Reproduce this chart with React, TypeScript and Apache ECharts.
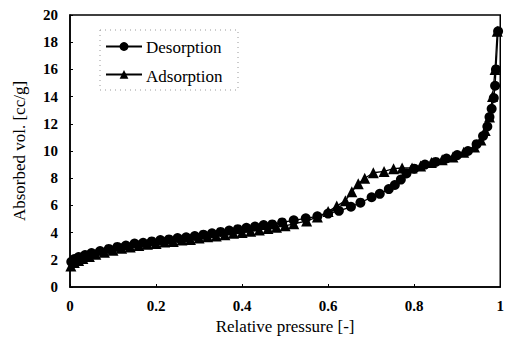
import React, { useEffect, useRef } from "react";
import * as echarts from "echarts";

const xTicks = [0, 0.2, 0.4, 0.6, 0.8, 1];
const yTicks = [0, 2, 4, 6, 8, 10, 12, 14, 16, 18, 20];
const seriesNames = ["Desorption", "Adsorption"];

const desorption: [number, number][] = [
  [0.995, 18.8], [0.99, 16.0], [0.988, 14.8], [0.985, 13.9], [0.98, 13.1],
  [0.975, 12.5], [0.97, 11.8], [0.96, 11.1], [0.945, 10.5], [0.925, 10.0],
  [0.9, 9.7], [0.875, 9.45], [0.85, 9.2], [0.825, 9.0], [0.8, 8.7],
  [0.782, 8.35], [0.769, 7.9], [0.755, 7.5], [0.741, 7.2], [0.72, 6.85],
  [0.701, 6.6], [0.675, 6.2], [0.653, 5.9], [0.625, 5.6], [0.6, 5.4],
  [0.575, 5.2], [0.548, 5.05], [0.52, 4.9], [0.493, 4.75], [0.47, 4.6],
  [0.45, 4.55], [0.43, 4.45], [0.41, 4.35], [0.39, 4.25], [0.37, 4.15],
  [0.35, 4.05], [0.33, 3.95], [0.31, 3.85], [0.29, 3.75], [0.27, 3.65],
  [0.25, 3.6], [0.23, 3.5], [0.21, 3.45], [0.19, 3.35], [0.17, 3.25],
  [0.15, 3.2], [0.13, 3.05], [0.11, 2.95], [0.09, 2.8], [0.07, 2.65],
  [0.05, 2.5], [0.035, 2.35], [0.02, 2.2], [0.01, 2.05], [0.003, 1.85],
];

const adsorption: [number, number][] = [
  [0.002, 1.55], [0.01, 1.8], [0.02, 1.95], [0.03, 2.1], [0.045, 2.25],
  [0.06, 2.4], [0.08, 2.55], [0.1, 2.7], [0.12, 2.85], [0.14, 2.95],
  [0.16, 3.05], [0.18, 3.15], [0.2, 3.2], [0.22, 3.3], [0.24, 3.35],
  [0.26, 3.45], [0.28, 3.5], [0.3, 3.6], [0.32, 3.7], [0.34, 3.75],
  [0.36, 3.85], [0.38, 3.95], [0.4, 4.0], [0.42, 4.1], [0.44, 4.2],
  [0.46, 4.3], [0.48, 4.4], [0.5, 4.5], [0.52, 4.65], [0.55, 4.85],
  [0.575, 5.15], [0.6, 5.55], [0.62, 5.95], [0.64, 6.35], [0.655, 7.0],
  [0.67, 7.6], [0.685, 8.0], [0.705, 8.4], [0.73, 8.5], [0.752, 8.7],
  [0.772, 8.75], [0.795, 8.75], [0.815, 8.9], [0.84, 9.15], [0.865, 9.35],
  [0.89, 9.55], [0.915, 9.9], [0.94, 10.3], [0.955, 10.8], [0.965, 11.5],
  [0.975, 12.5], [0.982, 14.0], [0.988, 16.0], [0.993, 18.8],
];

const FONT = "Liberation Serif";

export default function App() {
  const ref = useRef<HTMLDivElement>(null);
  useEffect(() => {
    if (!ref.current) return;
    const chart = echarts.init(ref.current, undefined, { renderer: "svg" });
    chart.setOption({
      animation: false,
      backgroundColor: "#fff",
      textStyle: { fontFamily: FONT, color: "#000" },
      grid: {
        left: 70,
        top: 15,
        right: 5,
        bottom: 56,
        show: true,
        borderColor: "#000",
        borderWidth: 1.5,
      },
      legend: {
        orient: "vertical",
        left: 105,
        top: 41,
        padding: 0,
        itemGap: 18,
        itemWidth: 36,
        itemHeight: 11,
        formatter: () => "",
        textStyle: { fontSize: 1 },
        data: seriesNames,
      },
      graphic: [
        {
          type: "rect",
          shape: { x: 100, y: 30, width: 138, height: 60 },
          style: { fill: "none", stroke: "#999", lineWidth: 1, lineDash: [1, 4] },
          z: 100,
        },
        {
          type: "text",
          x: 146,
          y: 47,
          style: { text: seriesNames[0], fontFamily: FONT, fontSize: 17, fill: "#000", verticalAlign: "middle" },
        },
        {
          type: "text",
          x: 146,
          y: 76,
          style: { text: seriesNames[1], fontFamily: FONT, fontSize: 17, fill: "#000", verticalAlign: "middle" },
        },
      ],
      xAxis: {
        type: "value",
        min: 0,
        max: 1,
        interval: 0.2,
        name: "Relative pressure [-]",
        nameLocation: "middle",
        nameGap: 31,
        nameTextStyle: { fontFamily: FONT, fontSize: 17, color: "#000" },
        axisLine: { show: true, lineStyle: { color: "#000", width: 1.5 } },
        axisTick: { show: true, inside: true, length: 3, lineStyle: { color: "#000" } },
        axisLabel: {
          fontFamily: FONT,
          fontSize: 15,
          fontWeight: "bold",
          color: "#000",
          margin: 11,
          formatter: (v: number) => (xTicks.includes(Math.round(v * 10) / 10) ? String(Math.round(v * 10) / 10) : ""),
        },
        splitLine: { show: false },
      },
      yAxis: {
        type: "value",
        min: 0,
        max: 20,
        interval: 2,
        name: "Absorbed vol. [cc/g]",
        nameLocation: "middle",
        nameGap: 42,
        nameTextStyle: { fontFamily: FONT, fontSize: 17, color: "#000" },
        axisLine: { show: true, lineStyle: { color: "#000", width: 1.5 } },
        axisTick: { show: true, inside: true, length: 3, lineStyle: { color: "#000" } },
        axisLabel: {
          fontFamily: FONT,
          fontSize: 15,
          fontWeight: "bold",
          color: "#000",
          margin: 12,
          formatter: (v: number) => (yTicks.includes(v) ? String(v) : ""),
        },
        splitLine: { show: false },
      },
      series: [
        {
          name: seriesNames[0],
          type: "line",
          data: desorption,
          symbol: "circle",
          symbolSize: 10,
          lineStyle: { color: "#000", width: 1.3 },
          itemStyle: { color: "#000" },
          z: 3,
        },
        {
          name: seriesNames[1],
          type: "line",
          data: adsorption,
          symbol: "triangle",
          symbolSize: 11,
          lineStyle: { color: "#000", width: 1.3 },
          itemStyle: { color: "#000" },
          z: 2,
        },
      ],
    });
    return () => chart.dispose();
  }, []);
  return <div ref={ref} style={{ width: 507, height: 343, position: "absolute", left: 0, top: 0 }} />;
}
